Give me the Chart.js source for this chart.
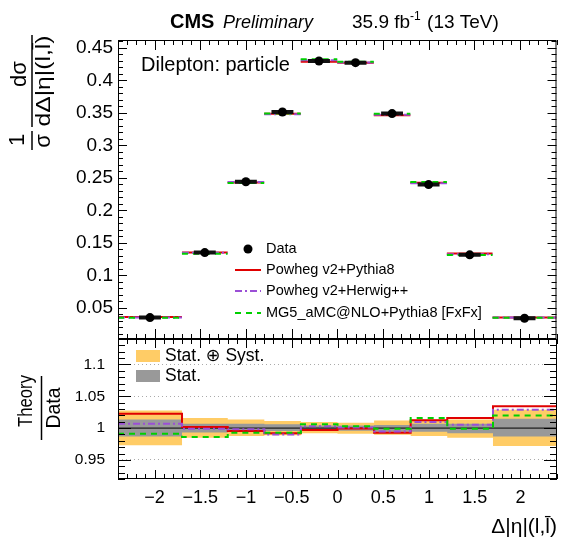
<!DOCTYPE html>
<html>
<head>
<meta charset="utf-8">
<script src="https://cdn.jsdelivr.net/npm/chart.js@4.4.0/dist/chart.umd.min.js"></script>
<style>
  body { margin: 0; background: #fff; }
  canvas { position: absolute; left: 0; top: 0; }
</style>
</head>
<body>
<canvas id="mainChart" width="561" height="540"></canvas>
<canvas id="ratioChart" width="561" height="540"></canvas>
<script>
// bins in delta|eta|(l,lbar)
var binEdges = [-2.4, -1.7, -1.2, -0.8, -0.4, 0, 0.4, 0.8, 1.2, 1.7, 2.4];
// normalised cross section, data
var dataXsec = [0.035, 0.135, 0.244, 0.3515, 0.430, 0.4274, 0.349, 0.2397, 0.1316, 0.034];
// theory / data
var ratioPowhegPythia = [1.0225, 1.0016, 0.9953, 0.9917, 0.997, 0.9995, 0.9928, 1.0125, 1.016, 1.0344];
var ratioPowhegHerwig = [1.0069, 0.999, 0.998, 0.990, 1.003, 1.001, 0.9948, 1.0094, 1.0053, 1.029];
var ratioMG5 = [0.9912, 0.986, 0.9928, 0.9928, 1.006, 1.003, 0.999, 1.016, 0.999, 1.0198];
// uncertainty bands (relative)
var totalUp = [1.0277, 1.016, 1.0136, 1.011, 1.0094, 1.0084, 1.012, 1.0136, 1.0136, 1.029];
var totalDown = [0.973, 0.985, 0.9875, 0.9886, 0.9917, 0.9912, 0.9896, 0.9875, 0.985, 0.972];
var statUp = [1.0136, 1.007, 1.007, 1.006, 1.004, 1.004, 1.0047, 1.0069, 1.0069, 1.0147];
var statDown = [0.9866, 0.993, 0.994, 0.9953, 0.996, 0.996, 0.9944, 0.9944, 0.9917, 0.9866];
// tick labels
var xTicks = [-2, -1.5, -1, -0.5, 0, 0.5, 1, 1.5, 2];
var yTicksMain = [0.05, 0.1, 0.15, 0.2, 0.25, 0.3, 0.35, 0.4, 0.45];
var yTicksRatio = [0.95, 1, 1.05, 1.1];

var FONT = '"Liberation Sans", Arial, "DejaVu Sans", sans-serif';
Chart.defaults.font.family = FONT;
Chart.defaults.color = '#000';

var RED = '#e00000', PURPLE = '#9b4fd6', GREEN = '#00d000';
var boxHalf = 0.12; // half width of the data box, in x units

function centers() {
    var c = [];
    for (var i = 0; i < binEdges.length - 1; i++) c.push((binEdges[i] + binEdges[i + 1]) / 2);
    return c;
}

// one flat segment per bin, with gaps between bins
function binSegments(vals) {
    var out = [];
    for (var i = 0; i < vals.length; i++) {
        out.push({x: binEdges[i], y: vals[i]});
        out.push({x: binEdges[i + 1], y: vals[i]});
        out.push({x: binEdges[i + 1], y: null});
    }
    return out;
}

// histogram outline (stepped)
function steps(vals) {
    return binEdges.map(function(e, i) {
        return {x: e, y: vals[Math.min(i, vals.length - 1)]};
    });
}

function times(a, b) { return a.map(function(v, i) { return v * b[i]; }); }

function fixedTicks(list) {
    return function(s) { s.ticks = list.map(function(v) { return {value: v}; }); };
}

// ROOT style frame with inward ticks
var rootFrame = {
    id: 'rootFrame',
    afterDatasetsDraw: function(chart, args, o) {
        var ctx = chart.ctx, a = chart.chartArea, x = chart.scales.x, y = chart.scales.y;
        ctx.save();
        ctx.strokeStyle = '#000';
        ctx.lineWidth = 1;
        ctx.strokeRect(a.left + 0.5, a.top + 0.5, a.right - a.left - 1, a.bottom - a.top - 1);
        ctx.beginPath();
        var i, v, p, len;
        for (i = Math.ceil(x.min / o.xMinor - 1e-6); i * o.xMinor <= x.max + 1e-9; i++) {
            v = i * o.xMinor;
            p = Math.round(x.getPixelForValue(v)) + 0.5;
            len = Math.abs(v / o.xMajor - Math.round(v / o.xMajor)) < 1e-6 ? o.xLen[0] : o.xLen[1];
            ctx.moveTo(p, a.bottom); ctx.lineTo(p, a.bottom - len);
            ctx.moveTo(p, a.top); ctx.lineTo(p, a.top + len);
        }
        for (i = Math.ceil(y.min / o.yMinor - 1e-6); i * o.yMinor <= y.max + 1e-9; i++) {
            v = i * o.yMinor;
            p = Math.round(y.getPixelForValue(v)) + 0.5;
            len = Math.abs(v / o.yMajor - Math.round(v / o.yMajor)) < 1e-6 ? o.yLen[0] : o.yLen[1];
            ctx.moveTo(a.left, p); ctx.lineTo(a.left + len, p);
            ctx.moveTo(a.right, p); ctx.lineTo(a.right - len, p);
        }
        ctx.stroke();
        ctx.restore();
    }
};

function vtext(ctx, str, cx, cy, size, len) {
    ctx.save();
    ctx.translate(cx, cy);
    ctx.rotate(-Math.PI / 2);
    ctx.font = size + 'px ' + FONT;
    ctx.textAlign = 'center';
    ctx.textBaseline = 'middle';
    if (len) ctx.scale(len / ctx.measureText(str).width, 1);
    ctx.fillText(str, 0, 0);
    ctx.restore();
}

function vbar(ctx, x, y0, y1) {
    ctx.beginPath();
    ctx.moveTo(x, y0); ctx.lineTo(x, y1);
    ctx.stroke();
}

function legendLine(ctx, y, color, dash, label) {
    ctx.beginPath();
    ctx.strokeStyle = color;
    ctx.lineWidth = 2;
    ctx.setLineDash(dash);
    ctx.moveTo(235, y); ctx.lineTo(261, y);
    ctx.stroke();
    ctx.setLineDash([]);
    ctx.fillText(label, 266, y);
}

var mainTexts = {
    id: 'mainTexts',
    afterDraw: function(chart) {
        var ctx = chart.ctx;
        ctx.save();
        ctx.fillStyle = '#000';
        ctx.strokeStyle = '#000';
        ctx.textBaseline = 'alphabetic';
        ctx.font = 'bold 20px ' + FONT;
        ctx.fillText('CMS', 170, 28);
        ctx.font = 'italic 18px ' + FONT;
        ctx.fillText('Preliminary', 223, 28);
        ctx.font = '19px ' + FONT;
        var x = 352;
        ctx.fillText('35.9 fb', x, 28);
        x += ctx.measureText('35.9 fb').width;
        ctx.font = '12px ' + FONT;
        ctx.fillText('-1', x, 20);
        x += ctx.measureText('-1').width + 1;
        ctx.font = '19px ' + FONT;
        ctx.fillText(' (13 TeV)', x, 28);

        // y title
        ctx.lineWidth = 1.5;
        vtext(ctx, 'd\u03c3', 20, 74, 22);
        vbar(ctx, 32, 35, 127);
        vtext(ctx, 'd\u0394|\u03b7|(l,l\u0304)', 44, 81, 21, 91);
        vtext(ctx, '1', 18, 140, 22);
        vbar(ctx, 32, 131, 150);
        vtext(ctx, '\u03c3', 44, 141, 22);

        ctx.textBaseline = 'middle';
        ctx.font = '20px ' + FONT;
        ctx.fillText('Dilepton: particle', 141, 65);

        // legend
        ctx.font = '14.5px ' + FONT;
        ctx.beginPath();
        ctx.arc(248, 249, 4.5, 0, Math.PI * 2);
        ctx.fill();
        ctx.fillText('Data', 266, 249);
        legendLine(ctx, 270, RED, [], 'Powheg v2+Pythia8');
        legendLine(ctx, 291, PURPLE, [7, 3, 2, 3], 'Powheg v2+Herwig++');
        legendLine(ctx, 313, GREEN, [6, 5], 'MG5_aMC@NLO+Pythia8 [FxFx]');
        ctx.restore();
    }
};

var ratioTexts = {
    id: 'ratioTexts',
    afterDraw: function(chart) {
        var ctx = chart.ctx;
        ctx.save();
        ctx.fillStyle = '#000';
        ctx.strokeStyle = '#000';
        ctx.lineWidth = 1.5;
        vtext(ctx, 'Theory', 26, 401, 20, 52);
        vbar(ctx, 41.5, 376, 440);
        vtext(ctx, 'Data', 54, 408, 20, 41);

        ctx.fillStyle = '#ffcc66';
        ctx.fillRect(136, 350, 24, 12);
        ctx.fillStyle = '#999999';
        ctx.fillRect(136, 370, 24, 12);
        ctx.fillStyle = '#000';
        ctx.font = '17.5px ' + FONT;
        ctx.textBaseline = 'middle';
        ctx.fillText('Stat. \u2295 Syst.', 165, 356);
        ctx.fillText('Stat.', 165, 376);
        ctx.restore();
    }
};

var binCenters = centers();

var dataPoints = binCenters.map(function(c, i) { return {x: c, y: dataXsec[i]}; });
var dataBoxes = [];
binCenters.forEach(function(c, i) {
    dataBoxes.push({x: c - boxHalf, y: dataXsec[i]});
    dataBoxes.push({x: c + boxHalf, y: dataXsec[i]});
    dataBoxes.push({x: c + boxHalf, y: null});
});

var mainChart = new Chart(document.getElementById('mainChart').getContext('2d'), {
    type: 'line',
    data: {
        datasets: [
            { label: 'Data', data: dataPoints, showLine: false, pointRadius: 4.5,
              pointBackgroundColor: '#000', pointBorderWidth: 0 },
            { label: 'Data box', data: dataBoxes, borderColor: '#111', borderWidth: 4,
              pointRadius: 0, spanGaps: false },
            { label: 'MG5_aMC@NLO+Pythia8 [FxFx]', data: binSegments(times(dataXsec, ratioMG5)),
              borderColor: GREEN, borderWidth: 2, borderDash: [6, 5], pointRadius: 0 },
            { label: 'Powheg v2+Herwig++', data: binSegments(times(dataXsec, ratioPowhegHerwig)),
              borderColor: PURPLE, borderWidth: 2, borderDash: [7, 3, 2, 3], pointRadius: 0 },
            { label: 'Powheg v2+Pythia8', data: binSegments(times(dataXsec, ratioPowhegPythia)),
              borderColor: RED, borderWidth: 2, pointRadius: 0 }
        ]
    },
    options: {
        responsive: false,
        animation: false,
        events: [],
        layout: { padding: { top: 40, right: 4, bottom: 201, left: 0 } },
        plugins: {
            legend: { display: false },
            tooltip: { enabled: false },
            rootFrame: { xMajor: 0.5, xMinor: 0.1, yMajor: 0.05, yMinor: 0.01, xLen: [10, 5], yLen: [9, 5] }
        },
        scales: {
            x: { type: 'linear', min: -2.4, max: 2.4, display: false },
            y: {
                type: 'linear', min: 0.002, max: 0.4623,
                afterBuildTicks: fixedTicks(yTicksMain),
                afterFit: function(s) { s.width = 118; },
                grid: { display: false, drawTicks: false },
                border: { display: false },
                ticks: { padding: 5, autoSkip: false, font: { size: 19 }, color: '#000',
                         callback: function(v) { return '' + Math.round(v * 100) / 100; } }
            }
        }
    },
    plugins: [rootFrame, mainTexts]
});

var unity = [{x: -2.4, y: 1}, {x: 2.4, y: 1}];

var ratioChart = new Chart(document.getElementById('ratioChart').getContext('2d'), {
    type: 'line',
    data: {
        datasets: [
            { label: 'MG5', data: steps(ratioMG5), stepped: 'before', borderColor: GREEN,
              borderWidth: 2, borderDash: [6, 5], pointRadius: 0 },
            { label: 'Herwig', data: steps(ratioPowhegHerwig), stepped: 'before', borderColor: PURPLE,
              borderWidth: 2, borderDash: [7, 3, 2, 3], pointRadius: 0 },
            { label: 'Pythia', data: steps(ratioPowhegPythia), stepped: 'before', borderColor: RED,
              borderWidth: 2, pointRadius: 0 },
            { label: 'unity', data: unity, borderColor: '#000', borderWidth: 1, pointRadius: 0 },
            { label: 'stat up', data: steps(statUp), stepped: 'before', borderWidth: 0,
              borderColor: 'rgba(0,0,0,0)', backgroundColor: '#999999', fill: '+1', pointRadius: 0 },
            { label: 'stat down', data: steps(statDown), stepped: 'before', borderWidth: 0,
              borderColor: 'rgba(0,0,0,0)', pointRadius: 0 },
            { label: 'total up', data: steps(totalUp), stepped: 'before', borderWidth: 0,
              borderColor: 'rgba(0,0,0,0)', backgroundColor: '#ffcc66', fill: '+1', pointRadius: 0 },
            { label: 'total down', data: steps(totalDown), stepped: 'before', borderWidth: 0,
              borderColor: 'rgba(0,0,0,0)', pointRadius: 0 }
        ]
    },
    options: {
        responsive: false,
        animation: false,
        events: [],
        layout: { padding: { top: 339, right: 4, bottom: 0, left: 0 } },
        plugins: {
            legend: { display: false },
            tooltip: { enabled: false },
            rootFrame: { xMajor: 0.5, xMinor: 0.1, yMajor: 0.05, yMinor: 0.01, xLen: [9, 5], yLen: [13, 7] }
        },
        scales: {
            x: {
                type: 'linear', min: -2.4, max: 2.4,
                afterBuildTicks: fixedTicks(xTicks),
                afterFit: function(s) { s.height = 61; },
                grid: { display: false, drawTicks: false },
                border: { display: false },
                ticks: { padding: 8, autoSkip: false, maxRotation: 0, font: { size: 18 }, color: '#000',
                         callback: function(v) { return v < 0 ? '\u2212' + (-v) : '' + v; } },
                title: { display: true, text: '\u0394|\u03b7|(l,l\u0304)', align: 'end',
                         font: { size: 21 }, color: '#000', padding: { top: 0, bottom: 0 } }
            },
            y: {
                type: 'linear', min: 0.92, max: 1.14,
                afterBuildTicks: fixedTicks(yTicksRatio),
                afterFit: function(s) { s.width = 118; },
                grid: { drawTicks: false, lineWidth: 1,
                        color: function(c) { return c.tick && c.tick.value === 1 ? 'rgba(0,0,0,0)' : '#aaaaaa'; } },
                border: { display: false, dash: [1, 3] },
                ticks: { padding: 13, autoSkip: false, font: { size: 15.5 }, color: '#000',
                         callback: function(v) { return '' + Math.round(v * 100) / 100; } }
            }
        }
    },
    plugins: [rootFrame, ratioTexts]
});
</script>
</body>
</html>
